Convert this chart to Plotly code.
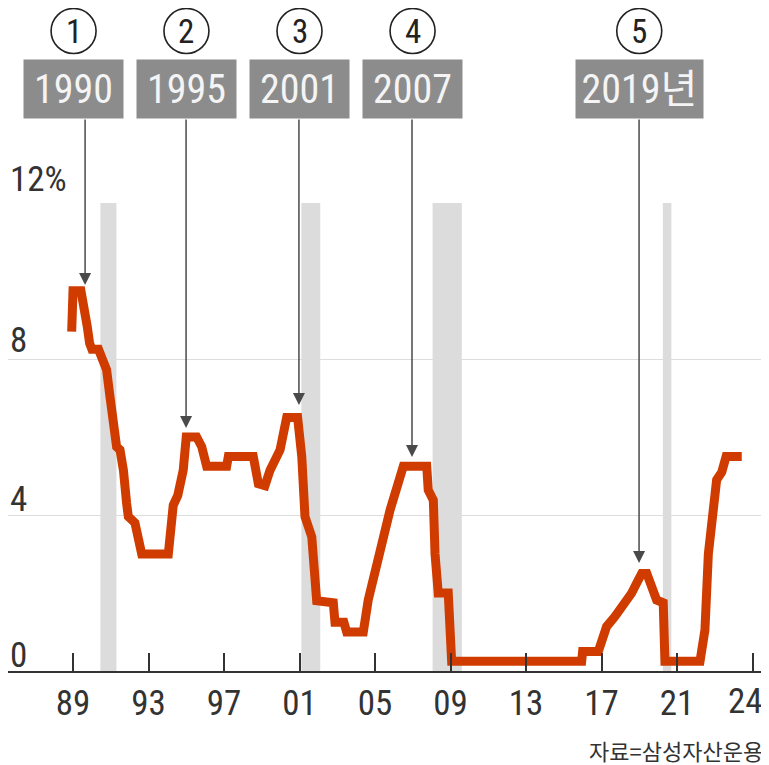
import plotly.graph_objects as go

# ---- data ----
rate_dates = [1988.93, 1989.0, 1989.42, 1989.62, 1989.75, 1989.88, 1990.0, 1990.35, 1990.55,
              1990.78, 1990.96, 1991.14, 1991.31, 1991.49, 1991.67, 1991.84, 1991.93, 1992.28,
              1992.46, 1992.64, 1994.05, 1994.2, 1994.31, 1994.55, 1994.65, 1994.84, 1995.0,
              1995.55, 1995.82, 1996.08, 1997.14, 1997.23, 1998.55, 1998.82, 1999.17, 1999.44,
              1999.97, 2000.14, 2000.32, 2000.9, 2001.12, 2001.29, 2001.65, 2001.91, 2002.79,
              2002.88, 2003.35, 2003.5, 2004.38, 2004.64, 2005.26, 2005.8, 2006.5, 2007.74,
              2007.82, 2008.09, 2008.18, 2008.35, 2008.88, 2009.06, 2015.95, 2016.0, 2016.83,
              2017.0, 2017.27, 2017.7, 2018.25, 2018.6, 2018.86, 2019.13, 2019.4, 2019.75,
              2019.92, 2020.27, 2020.36, 2022.22, 2022.48, 2022.66, 2022.92, 2023.1, 2023.37,
              2023.6, 2024.43]
rate_values = [8.7, 9.75, 9.75, 8.9, 8.85, 8.4, 8.25, 8.25, 8.05,
               7.72, 7.03, 6.18, 5.75, 5.67, 5.15, 4.3, 3.96, 3.8,
               3.44, 3.0, 3.0, 3.6, 4.25, 4.5, 4.75, 5.15, 6.0,
               6.0, 5.75, 5.25, 5.25, 5.5, 5.5, 4.8, 4.75, 5.15,
               5.67, 6.1, 6.5, 6.5, 5.5, 3.96, 3.44, 1.8, 1.75,
               1.25, 1.25, 1.0, 1.0, 1.82, 3.19, 4.13, 5.25, 5.25,
               4.64, 4.38, 3.0, 2.0, 2.0, 0.25, 0.25, 0.5, 0.5,
               0.83, 1.14, 1.39, 1.74, 2.0, 2.25, 2.5, 2.5, 2.0,
               1.82, 1.75, 0.25, 0.25, 1.05, 3.0, 4.3, 4.9, 5.1,
               5.5, 5.5]

recession_starts = [1990.45, 2001.1, 2008.05, 2020.25]
recession_ends = [1991.3, 2002.1, 2009.6, 2020.7]

x_tick_vals = [1989, 1993, 1997, 2001, 2005, 2009, 2013, 2017, 2021, 2025]
x_tick_text = ["89", "93", "97", "01", "05", "09", "13", "17", "21", "24"]
y_grid_vals = [4, 8, 12]
y_label_vals = [0, 4, 8, 12]
y_label_text = ["0", "4", "8", "12%"]

event_nums = ["1", "2", "3", "4", "5"]
event_labels = ["1990", "1995", "2001", "2007", "2019년"]
event_box_x = [1989.03, 1995.01, 2001.0, 2006.99, 2019.0]
event_box_w = [99, 99, 99, 99, 127]
event_arrow_x = [1989.64, 1994.99, 2000.97, 2006.96, 2018.99]
event_arrow_tip = [9.9, 6.23, 6.82, 5.49, 2.77]

source_text = "자료=삼성자산운용"

# ---- layout geometry (page is drawn at an 8px body offset) ----
X_RANGE = [1985.556, 2025.874]
PLOT_W, PLOT_H = 761, 468
TOP_PX = 203          # reference pixel of y = 12
BASE_PX = 671         # reference pixel of y = 0


def paper_y(py):
    return (BASE_PX - py) / PLOT_H


def paper_x_of_year(yr):
    return (yr - X_RANGE[0]) / (X_RANGE[1] - X_RANGE[0])


NARROW = "Liberation Sans Narrow, Roboto Condensed, DejaVu Sans Condensed, Arial Narrow, Noto Sans CJK KR, sans-serif"
LINE_COLOR = "#d03c00"
TXT = "#333333"

fig = go.Figure()
fig.add_trace(go.Scatter(
    x=rate_dates, y=rate_values, mode="lines",
    line=dict(color=LINE_COLOR, width=9),
    hoverinfo="skip", showlegend=False,
))

for s, e in zip(recession_starts, recession_ends):
    fig.add_shape(type="rect", xref="x", yref="y", x0=s, x1=e, y0=0, y1=12,
                  fillcolor="#dcdcdc", line_width=0, layer="below")

annotations = []
# y labels
y_label_shift = {0: 16, 4: 16, 8: 19, 12: 24}
for v, t in zip(y_label_vals, y_label_text):
    annotations.append(dict(
        xref="paper", yref="y", x=0, y=v, text=t, showarrow=False,
        xanchor="left", yanchor="middle", yshift=y_label_shift[v],
        font=dict(family=NARROW, size=35, color=TXT),
    ))

# last x tick label sits at the right edge: draw it right-aligned so it stays inside
tick_text_axis = x_tick_text[:-1] + [""]
annotations.append(dict(
    xref="paper", yref="paper", x=(765 - 8) / PLOT_W, y=paper_y(701), text=x_tick_text[-1],
    showarrow=False, xanchor="right", yanchor="middle",
    font=dict(family=NARROW, size=35, color=TXT),
))

# arrows
for ax_, tip in zip(event_arrow_x, event_arrow_tip):
    annotations.append(dict(
        xref="x", yref="y", x=ax_, y=tip, axref="x", ayref="y", ax=ax_, ay=14.18,
        text="", showarrow=True, arrowhead=2, arrowsize=1.6, arrowwidth=1.5,
        arrowcolor="#4a4a4a", standoff=0, startstandoff=0,
    ))

# boxes
for bx, lab, w in zip(event_box_x, event_labels, event_box_w):
    annotations.append(dict(
        xref="x", yref="paper", x=bx, y=paper_y(89), text=lab, showarrow=False,
        xanchor="center", yanchor="middle", width=w, height=58, borderpad=0,
        bgcolor="#8c8c8c", font=dict(family=NARROW, size=40, color="#f4f4f4"),
    ))

# circled numbers
R_X = 22.5 / PLOT_W
R_Y = 22.5 / PLOT_H
for bx, num in zip(event_box_x, event_nums):
    cx = paper_x_of_year(bx)
    cy = paper_y(31)
    fig.add_shape(type="circle", xref="paper", yref="paper",
                  x0=cx - R_X, x1=cx + R_X, y0=cy - R_Y, y1=cy + R_Y,
                  line=dict(color="#222222", width=1.6), fillcolor="rgba(0,0,0,0)")
    annotations.append(dict(
        xref="x", yref="paper", x=bx, y=cy, text=num, showarrow=False,
        xanchor="center", yanchor="middle",
        font=dict(family=NARROW, size=33, color="#222222"),
    ))

# source
annotations.append(dict(
    xref="paper", yref="paper", x=(765 - 8) / PLOT_W, y=paper_y(750), text=source_text,
    showarrow=False, xanchor="right", yanchor="middle",
    font=dict(family="Noto Sans CJK KR", size=22, color=TXT),
))

fig.update_layout(
    width=761, height=757,
    margin=dict(l=0, r=0, t=TOP_PX - 8, b=94),
    paper_bgcolor="white", plot_bgcolor="white",
    annotations=annotations,
    xaxis=dict(
        range=X_RANGE, tickvals=x_tick_vals, ticktext=tick_text_axis,
        showline=True, linecolor="#333333", linewidth=2,
        ticks="inside", ticklen=18, tickwidth=1.5, tickcolor="#333333",
        showgrid=False, zeroline=False, ticklabelstandoff=0,
        tickfont=dict(family=NARROW, size=35, color=TXT),
    ),
    yaxis=dict(
        range=[0, 12], tickvals=y_grid_vals, showticklabels=False,
        showgrid=True, gridcolor="#dddddd", gridwidth=1.2, zeroline=False,
    ),
)

fig.write_html("out.html")
